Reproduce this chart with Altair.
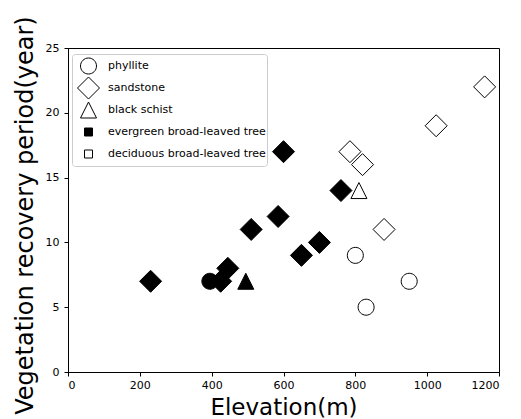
import altair as alt
import pandas as pd

# Data
elevation = [230, 425, 445, 510, 585, 600, 650, 700, 760, 395, 495,
             785, 820, 880, 1025, 1160, 810, 800, 950, 830]
period = [7, 7, 8, 11, 12, 17, 9, 10, 14, 7, 7,
          17, 16, 11, 19, 22, 14, 9, 7, 5]
rock = (["sandstone"] * 9 + ["phyllite", "black schist"]
        + ["sandstone"] * 5 + ["black schist"] + ["phyllite"] * 3)
tree = (["evergreen broad-leaved tree"] * 11
        + ["deciduous broad-leaved tree"] * 9)

legend_labels = ["phyllite", "sandstone", "black schist",
                 "evergreen broad-leaved tree", "deciduous broad-leaved tree"]

# marker outlines (unit paths, scaled by the symbol size)
CIRCLE = "M0.8,0A0.8,0.8,0,1,1,-0.8,0A0.8,0.8,0,1,1,0.8,0Z"
DIAMOND = "M0,-1.1L1.1,0L0,1.1L-1.1,0Z"
TRIANGLE = "M0,-0.8L0.8,0.8L-0.8,0.8Z"
SQUARE = "M-0.4,-0.4L0.4,-0.4L0.4,0.4L-0.4,0.4Z"

legend_shapes = [CIRCLE, DIAMOND, TRIANGLE, SQUARE, SQUARE]
legend_fills = ["white", "white", "white", "black", "white"]
legend_strokes = ["black"] * 5

rock_names = ["phyllite", "sandstone", "black schist"]
rock_shapes = [CIRCLE, DIAMOND, TRIANGLE]
tree_names = ["evergreen broad-leaved tree", "deciduous broad-leaved tree"]
tree_fills = ["black", "transparent"]

x_ticks = [0, 200, 400, 600, 800, 1000, 1200]
y_ticks = [0, 5, 10, 15, 20, 25]

df = pd.DataFrame({"elevation": elevation, "period": period,
                   "rock": rock, "tree": tree})
leg = pd.DataFrame({"label": legend_labels,
                    "ex": [None] * 5, "ey": [None] * 5})

FONT = "DejaVu Sans"
MSIZE = 400

x_enc_kwargs = dict(
    scale=alt.Scale(domain=[0, 1200], nice=False, zero=False),
    axis=alt.Axis(values=x_ticks, format="d", title="Elevation(m)",
                  grid=False, tickSize=4, labelPadding=3, titlePadding=6.5,
                  labelFontSize=11, titleFontSize=23, labelFont=FONT,
                  titleFont=FONT, titleFontWeight="normal",
                  labelColor="black", titleColor="black",
                  domainColor="black", tickColor="black"),
)
y_enc_kwargs = dict(
    scale=alt.Scale(domain=[0, 25], nice=False, zero=False),
    axis=alt.Axis(values=y_ticks, format="d",
                  title="Vegetation recovery period(year)",
                  grid=False, tickSize=4, labelPadding=5, titlePadding=8,
                  titleY=167,
                  labelFontSize=11, titleFontSize=24, labelFont=FONT,
                  titleFont=FONT, titleFontWeight="normal",
                  labelColor="black", titleColor="black",
                  domainColor="black", tickColor="black"),
)

points = alt.Chart(df).mark_point(filled=True, stroke="black",
                                  strokeWidth=1, opacity=1,
                                  size=MSIZE).encode(
    x=alt.X("elevation:Q", **x_enc_kwargs),
    y=alt.Y("period:Q", **y_enc_kwargs),
    shape=alt.Shape("rock:N", scale=alt.Scale(domain=rock_names,
                                              range=rock_shapes),
                    legend=None),
    fill=alt.Fill("tree:N", scale=alt.Scale(domain=tree_names,
                                            range=tree_fills),
                  legend=None),
)

legend_def = alt.Legend(
    title=None, orient="none", legendX=4, legendY=6,
    strokeColor="#cccccc", fillColor="white", cornerRadius=3, padding=1,
    labelFontSize=11, labelFont=FONT, labelColor="black",
    symbolSize=MSIZE, symbolStrokeColor="black", symbolStrokeWidth=1,
    symbolOpacity=1, symbolOffset=5, rowPadding=0, labelOffset=9,
    clipHeight=22,
)

legend_layer = alt.Chart(leg).mark_point(filled=True, strokeWidth=1,
                                         opacity=1, size=MSIZE).encode(
    x=alt.X("ex:Q", **x_enc_kwargs),
    y=alt.Y("ey:Q", **y_enc_kwargs),
    shape=alt.Shape("label:N", scale=alt.Scale(domain=legend_labels,
                                               range=legend_shapes),
                    legend=legend_def, sort=legend_labels),
    fill=alt.Fill("label:N", scale=alt.Scale(domain=legend_labels,
                                             range=legend_fills),
                  legend=legend_def, sort=legend_labels),
    stroke=alt.Stroke("label:N", scale=alt.Scale(domain=legend_labels,
                                                 range=legend_strokes),
                      legend=legend_def, sort=legend_labels),
)

chart = alt.layer(points, legend_layer).resolve_scale(
    shape="independent", fill="independent", stroke="independent"
).properties(
    width=431, height=324,
    autosize=alt.AutoSizeParams(type="none"),
    padding={"left": 60, "top": 40, "right": 14, "bottom": 48},
).configure_view(stroke="black", strokeWidth=1)

chart.save("out.html", embed_options={"renderer": "svg", "actions": False})
